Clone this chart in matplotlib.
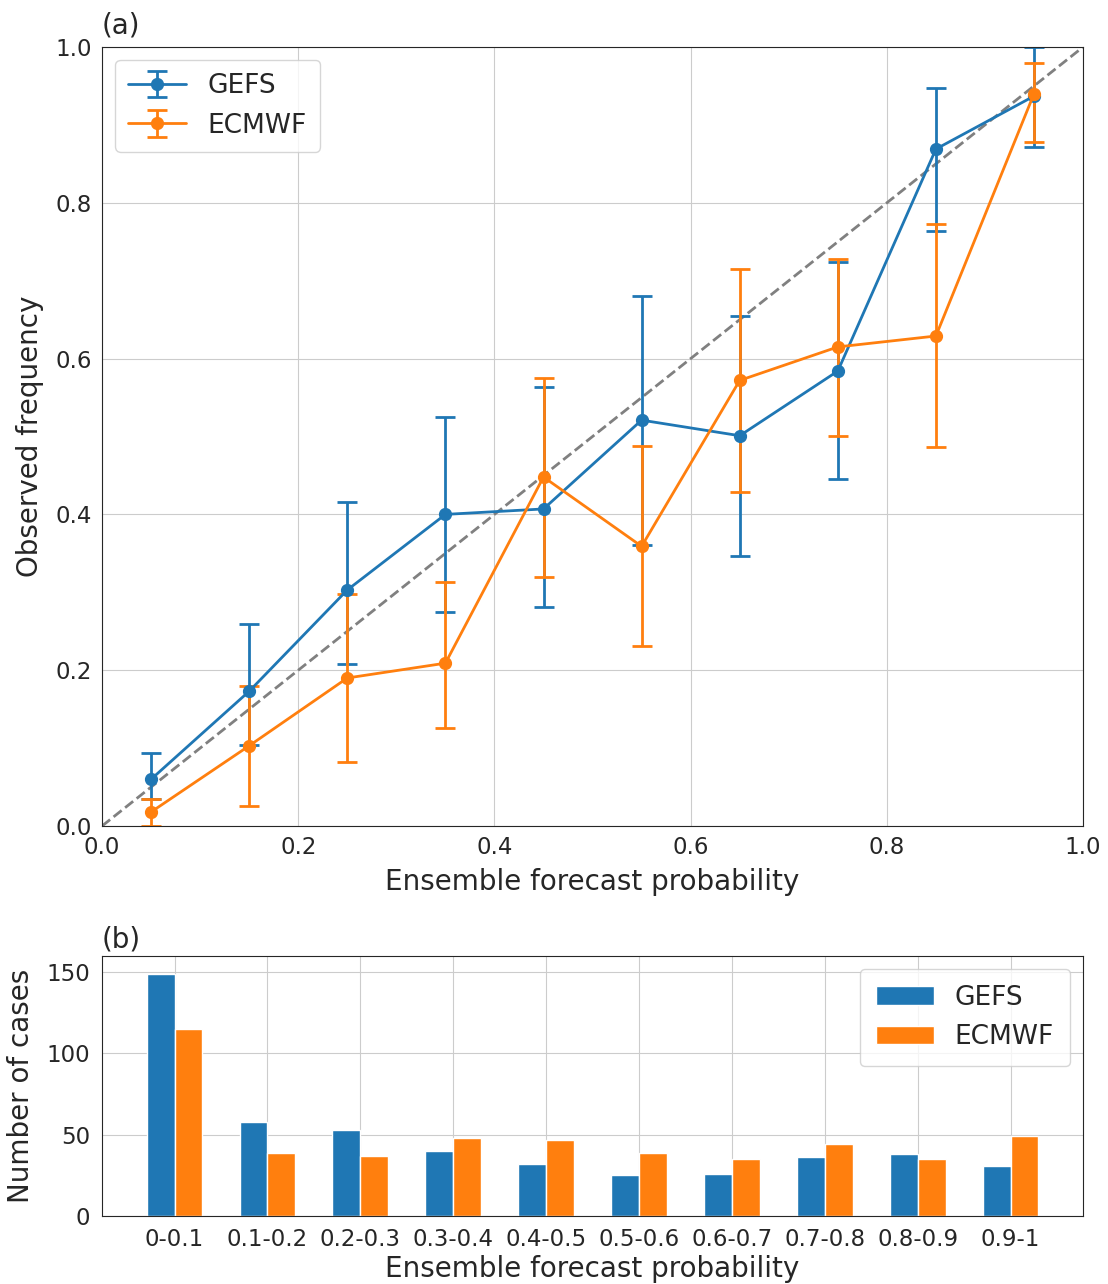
import numpy as np
import matplotlib
matplotlib.use('Agg')
from matplotlib import pyplot as plt
import seaborn as sns

# reliability data
prob_bins = [0.05, 0.15, 0.25, 0.35, 0.45, 0.55, 0.65, 0.75, 0.85, 0.95]
gefs_freq = [0.060, 0.173, 0.303, 0.400, 0.407, 0.521, 0.501, 0.584, 0.869, 0.937]
gefs_low  = [0.035, 0.104, 0.208, 0.275, 0.281, 0.361, 0.347, 0.445, 0.764, 0.872]
gefs_high = [0.094, 0.259, 0.416, 0.525, 0.563, 0.680, 0.655, 0.724, 0.947, 1.000]
ecmwf_freq = [0.018, 0.103, 0.190, 0.209, 0.448, 0.359, 0.572, 0.615, 0.629, 0.940]
ecmwf_low  = [0.000, 0.026, 0.082, 0.126, 0.320, 0.231, 0.429, 0.501, 0.486, 0.878]
ecmwf_high = [0.035, 0.180, 0.298, 0.313, 0.575, 0.488, 0.715, 0.728, 0.773, 0.980]

# number of cases per bin
bin_labels = ['0-0.1', '0.1-0.2', '0.2-0.3', '0.3-0.4', '0.4-0.5',
              '0.5-0.6', '0.6-0.7', '0.7-0.8', '0.8-0.9', '0.9-1']
gefs_counts  = [149, 58, 53, 40, 32, 25, 26, 36, 38, 31]
ecmwf_counts = [115, 39, 37, 48, 47, 39, 35, 44, 35, 49]

sns.set_style('whitegrid', {'axes.edgecolor': '.15'})
plt.rcParams['font.family'] = ['DejaVu Sans']
plt.rcParams['text.color'] = '.15'
plt.rcParams['axes.labelcolor'] = '.15'
plt.rcParams['xtick.color'] = '.15'
plt.rcParams['ytick.color'] = '.15'

blue = '#1f77b4'
orange = '#ff7f0e'
tick_fs = 16.5
label_fs = 20

fig = plt.figure(figsize=(11.08, 12.84), dpi=100)
ax1 = fig.add_axes([0.0921, 0.3567, 0.8854, 0.6067])
ax2 = fig.add_axes([0.0921, 0.0530, 0.8854, 0.2025])

def err(freq, lo, hi):
	f = np.array(freq)
	return np.vstack([f - np.array(lo), np.array(hi) - f])

# (a) reliability diagram
ax1.plot([0, 1], [0, 1], '--', color='gray', lw=2, zorder=1)
ax1.errorbar(prob_bins, gefs_freq, yerr=err(gefs_freq, gefs_low, gefs_high),
	color=blue, marker='o', ms=8.5, lw=2, elinewidth=2, capsize=7, capthick=2, label='GEFS')
ax1.errorbar(prob_bins, ecmwf_freq, yerr=err(ecmwf_freq, ecmwf_low, ecmwf_high),
	color=orange, marker='o', ms=8.5, lw=2, elinewidth=2, capsize=7, capthick=2, label='ECMWF')
ax1.set_xlim(0, 1)
ax1.set_ylim(0, 1)
ax1.set_xticks(np.arange(0, 1.01, 0.2))
ax1.set_yticks(np.arange(0, 1.01, 0.2))
ax1.tick_params(labelsize=tick_fs, pad=4)
ax1.set_xlabel('Ensemble forecast probability', fontsize=label_fs, labelpad=6)
ax1.set_ylabel('Observed frequency', fontsize=label_fs, labelpad=8)
ax1.set_title('(a)', loc='left', fontsize=label_fs, pad=10)
ax1.legend(loc='upper left', fontsize=label_fs - 1, borderpad=0.5, handlelength=2.2)

# (b) number of cases
x = np.arange(len(bin_labels))
w = 0.3
ax2.bar(x - w/2, gefs_counts, w, color=blue, edgecolor='white', lw=1, label='GEFS', zorder=2)
ax2.bar(x + w/2, ecmwf_counts, w, color=orange, edgecolor='white', lw=1, label='ECMWF', zorder=2)
ax2.set_xticks(x)
ax2.set_xticklabels(bin_labels)
ax2.set_xlim(-0.78, 9.78)
ax2.set_ylim(0, 160)
ax2.set_yticks([0, 50, 100, 150])
ax2.tick_params(labelsize=tick_fs, pad=5)
ax2.set_xlabel('Ensemble forecast probability', fontsize=label_fs, labelpad=3)
ax2.set_ylabel('Number of cases', fontsize=label_fs, labelpad=8)
ax2.set_title('(b)', loc='left', fontsize=label_fs, pad=6)
ax2.legend(loc='upper right', fontsize=label_fs - 1, borderpad=0.6, handlelength=2.2)

fig.savefig('out.png', dpi=100)
